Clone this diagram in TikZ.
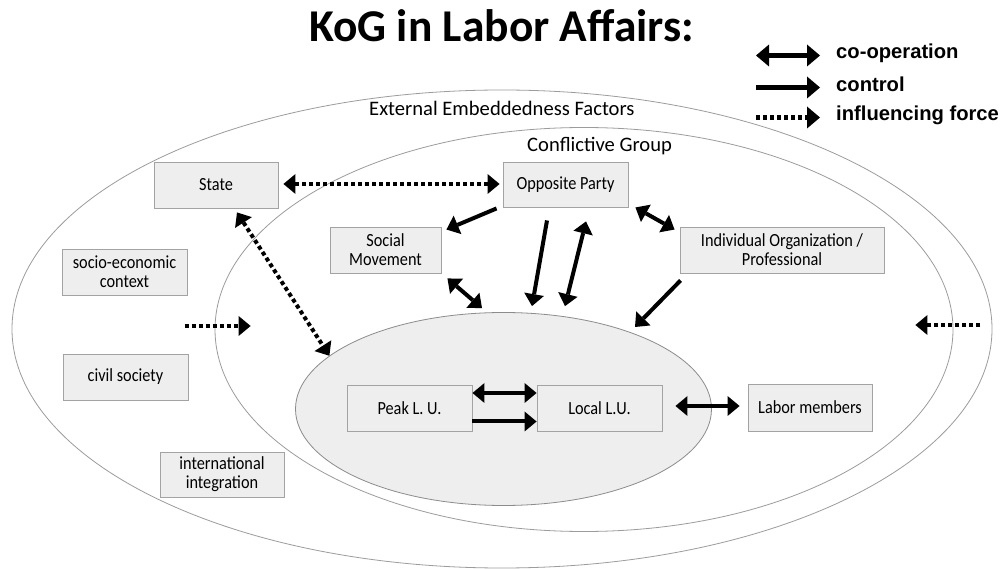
\documentclass[tikz,border=0pt]{standalone}
\usepackage{fontspec}
\setmainfont{Carlito}
\newfontfamily\boxfont{Carlito}[FakeStretch=0.88]
\newfontfamily\legfont{Liberation Sans}
\usetikzlibrary{arrows.meta,shapes.geometric,calc}
\definecolor{boxfill}{HTML}{EEEEEE}
\definecolor{boxline}{HTML}{A3A3A3}
\definecolor{elline}{HTML}{9C9C9C}
\begin{document}
\begin{tikzpicture}[x=1pt,y=-1pt,
  bigtri/.tip={Triangle[length=12pt,width=20pt,line width=0pt]},
  legtri/.tip={Triangle[length=13pt,width=22pt,line width=0pt]},
  lbox/.style={draw=boxline, fill=boxfill, line width=0.9pt, minimum width=#1,
    minimum height=46pt, inner sep=0pt, align=center,
    font=\boxfont\fontsize{18.5}{19}\selectfont},
  lbox/.default=125pt,
  ell/.style={ellipse, draw=elline, line width=0.8pt, inner sep=0pt},
  lab/.style={anchor=base west, inner sep=0pt, font=\fontsize{20.6}{24}\selectfont},
  arr/.style={line width=4pt, -bigtri},
  darr/.style={line width=4pt, bigtri-bigtri},
  dotarr/.style={line width=4pt, dash pattern=on 4pt off 3pt, -bigtri},
  ddotarr/.style={line width=4pt, dash pattern=on 4pt off 3pt, bigtri-bigtri},
  legtext/.style={anchor=base west, inner sep=0pt, font=\legfont\bfseries\fontsize{20.2}{24}\selectfont},
  legarr/.style={line width=4.5pt}
]
\useasboundingbox (0,0) rectangle (1005,569);
\fill[white] (0,0) rectangle (1005,569);

% ellipses
\node[ell, minimum width=980pt, minimum height=478pt] (outer) at (502,329) {};
\node[ell, minimum width=738pt, minimum height=404pt] (inner) at (584,329.5) {};
\node[ell, fill=boxfill, draw=elline!90!black, minimum width=416pt, minimum height=193pt] (core) at (503.5,409) {};

% title and labels
\node[anchor=base, inner sep=0pt, font=\bfseries\fontsize{45.5}{50}\selectfont] (title) at (501.5,42) {KoG in Labor Affairs:};
\node[lab] (extlab) at (369,116) {External Embeddedness Factors};
\node[lab] (conflab) at (527,152) {Conflictive Group};

% boxes
\node[lbox=124pt] (state) at (216,185) {State};
\node[lbox=125pt, minimum height=45pt] (opp) at (565.5,184.5) {Opposite Party};
\node[lbox=111pt] (soc) at (385.5,250) {Social\\Movement};
\node[lbox=204pt] (indiv) at (782,250) {Individual Organization /\\Professional};
\node[lbox=125pt] (socio) at (124.5,272) {socio-economic\\context};
\node[lbox=125pt] (civil) at (125.5,377) {civil society};
\node[lbox=124pt, minimum height=45pt] (intl) at (222,474.5) {international\\integration};
\node[lbox=125pt] (peak) at (409.5,408) {Peak L. U.};
\node[lbox=125pt] (local) at (599.5,408) {Local L.U.};
\node[lbox=124pt, minimum height=47pt] (labor) at (810,407.5) {Labor members};

% connectors
\draw[ddotarr] ($(state.east)+(5,-1)$) -- ($(opp.west)+(-3,-0.5)$);
\draw[ddotarr] ($(state.south)+(21,4)$) -- (core.163);
\draw[arr] ($(opp.south west)+(-6,1)$) -- ($(soc.north east)+(5,3)$);
\draw[arr] ($(opp.south)+(-18.5,13)$) -- ($(core.north)+(28.5,-6)$);
\draw[darr] ($(core.north)+(61.5,-6)$) -- ($(opp.south)+(20.5,14)$);
\draw[darr] ($(opp.south east)+(7,0)$) -- ($(indiv.north west)+(-5,3)$);
\draw[arr] ($(indiv.south west)+(1,7)$) -- ($(core.center)+(131.5,-82)$);
\draw[darr] ($(soc.south east)+(6,5)$) -- ($(core.north)+(-21.5,-4)$);
\draw[darr] ($(peak.east)+(0,-15)$) -- ($(local.west)+(0,-15)$);
\draw[arr] ($(peak.east)+(0,13.5)$) -- ($(local.west)+(0,13.5)$);
\draw[darr] ($(local.east)+(13,-2)$) -- ($(labor.west)+(-8,-1.5)$);
\draw[dotarr] ($(inner.west)+(-30,-3.5)$) -- ($(inner.west)+(36,-3.5)$);
\draw[dotarr] ($(inner.east)+(27,-4.5)$) -- ($(inner.east)+(-38,-4.5)$);

% legend
\node[legtext] (legco) at (836,59) {co-operation};
\node[legtext] (legctl) at (836,91.5) {control};
\node[legtext] (leginf) at (836,121) {influencing force};
\draw[legarr, legtri-legtri] ($(legco.base west)+(-80,-3.5)$) -- ($(legco.base west)+(-16,-3.5)$);
\draw[legarr, -legtri] ($(legctl.base west)+(-80,-4)$) -- ($(legctl.base west)+(-16,-4)$);
\draw[legarr, dash pattern=on 4pt off 3pt, -legtri] ($(leginf.base west)+(-80,-3.5)$) -- ($(leginf.base west)+(-16,-3.5)$);
\end{tikzpicture}
\end{document}
